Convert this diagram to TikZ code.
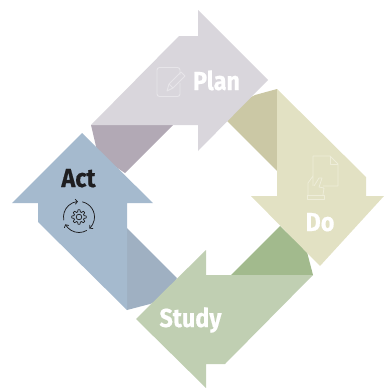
\documentclass[tikz,border=0pt]{standalone}
\usepackage{fontspec}
\usepackage{graphicx}
\usetikzlibrary{arrows.meta}
\setmainfont{Fira Sans}
\newfontfamily\lblfont[UprightFont=* Bold,FakeBold=0.6]{Fira Sans}
\newcommand{\lblbox}[1]{\scalebox{0.9}[1]{#1}}
\begin{document}
\begin{tikzpicture}[x=1pt,y=-1pt,
  lbl/.style={font=\lblfont\fontsize{26}{30}\selectfont,text=white,inner sep=0pt,anchor=base},
  ico/.style={draw=#1,line width=0.9pt,line join=round,fill=none},
  cyc/.style={draw=actk,line width=0.75pt,fill=none,-{Straight Barb[length=2.2pt,width=5pt]}}]
\definecolor{planc}{HTML}{D9D6DC}\definecolor{planf}{HTML}{B2A9B5}
\definecolor{doc}{HTML}{E2E1C3}\definecolor{dof}{HTML}{CBC8A5}
\definecolor{studyc}{HTML}{C0CFB2}\definecolor{studyf}{HTML}{A2BA8D}
\definecolor{actc}{HTML}{A5BACE}\definecolor{actf}{HTML}{9FB0C2}
\definecolor{planl}{HTML}{E7E5E9}\definecolor{dol}{HTML}{EEEDD9}
\definecolor{actk}{HTML}{1E1E20}
\useasboundingbox (0,0) rectangle (384,388);
% folds
\fill[planf] (91,125) -- (173,125) -- (125,173) -- (98,155) -- cycle;
\fill[dof] (277,89) -- (255,95) -- (235,105) -- (222,116) -- (277,171) -- cycle;
\fill[studyf] (313,275) -- (307,252) -- (280,226) -- (231,275) -- cycle;
\fill[actf] (127,228) -- (177,278) -- (165,298) -- (150,304) -- (127,310) -- cycle;
% arrows
\fill[planc] (91,125) -- (179,36) -- (198,36) -- (198,10) -- (268,80) -- (198,151) -- (198,125) -- cycle;
\fill[doc] (277,89) -- (366,177) -- (366,196) -- (384,196) -- (320,266) -- (251,196) -- (277,196) -- cycle;
\fill[studyc] (313,275) -- (225,364) -- (206,364) -- (206,388) -- (136,319) -- (206,250) -- (206,275) -- cycle;
\fill[actc] (127,310) -- (38,222) -- (38,203) -- (12,203) -- (82,133) -- (153,203) -- (127,203) -- cycle;
% labels
\node[lbl] (plan) at (216.5,90) {\lblbox{Plan}};
\node[lbl] (do) at (320,231) {\lblbox{Do}};
\node[lbl] (study) at (190.5,327) {\lblbox{Study}};
\node[lbl,text=actk] (act) at (78.5,187) {\lblbox{Act}};
% plan icon
\draw[ico=planl,rounded corners=2.5pt] (180,75) -- (180,67.5) -- (157,67.5) -- (157,96.5) -- (180,96.5) -- (180,83);
\draw[ico=planl] (167,91) -- (169,84) -- (181,72) -- (185,76) -- (173,88) -- cycle;
\draw[ico=planl] (169,84) -- (173,88);
% do icon
\draw[ico=dol,line width=0.8pt] (313,176) -- (313,156) -- (330,156) -- (338,164) -- (338,186) -- (323,186);
\draw[ico=dol,line width=0.8pt] (330,156) -- (330,164) -- (338,164);
\draw[ico=dol,line width=0.8pt] (308,195) -- (308,183) -- (313,176) -- (313,186);
\draw[ico=dol,line width=0.8pt] (314,186) -- (319,178) -- (322,178) -- (319,187) -- (324,188) -- (323,195);
\draw[ico=dol,line width=0.8pt] (307,195) rectangle (324,199);
% act icon
\draw[draw=actk,line width=0.7pt] (79,217) circle (2.8);
\draw[draw=actk,line width=0.7pt,line join=round] plot[domain=0:360,samples=145,variable=\t]
  ({79+(6.2+1.0*max(-1,min(1,2*cos(8*\t))))*cos(\t)},{217+(6.2+1.0*max(-1,min(1,2*cos(8*\t))))*sin(\t)}) -- cycle;
\draw[cyc] (79,217) ++(168:15.5) arc (168:266:15.5);
\draw[cyc] (79,217) ++(-78:15.5) arc (-78:48:15.5);
\draw[cyc] (79,217) ++(60:15.5) arc (60:152:15.5);
\end{tikzpicture}
\end{document}
